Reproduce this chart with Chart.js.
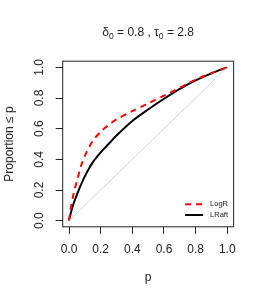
<!DOCTYPE html>
<html>
<head>
<meta charset="utf-8">
<script src="https://cdn.jsdelivr.net/npm/chart.js@4"></script>
<style>
  html, body { margin: 0; padding: 0; background: #fff; }
  #wrap { width: 266px; height: 304px; }
</style>
</head>
<body>
<div id="wrap"><canvas id="myChart" width="266" height="304"></canvas></div>
<script>
// proportion of p-values <= p
var pGrid = [0, 0.01, 0.03, 0.05, 0.08, 0.11, 0.15, 0.2, 0.25, 0.3, 0.4, 0.5, 0.6, 0.7, 0.8, 0.9, 1]
var logR  = [0, 0.075, 0.18, 0.26, 0.37, 0.445, 0.52, 0.58, 0.625, 0.66, 0.715, 0.765, 0.815, 0.867, 0.92, 0.962, 1]
var lRaft = [0, 0.045, 0.115, 0.17, 0.245, 0.31, 0.38, 0.445, 0.5, 0.555, 0.65, 0.725, 0.795, 0.86, 0.915, 0.961, 1]
var diag  = [0, 1]

var xTicks = [0, 0.2, 0.4, 0.6, 0.8, 1]
var yTicks = [0, 0.2, 0.4, 0.6, 0.8, 1]

var seriesNames = ['LogR', 'LRaft']
var FONT = 'Liberation Sans, Arial, Helvetica, sans-serif'
var INK = '#222'

function pts(xs, ys) {
    return ys.map(function (v, i) { return { x: xs[i], y: v } })
}

// title, box, y tick labels and legend like base R
var rStuff = {
    id: 'rStuff',
    afterDraw: function (chart) {
        var c = chart.ctx
        var a = chart.chartArea
        c.save()
        c.strokeStyle = INK
        c.lineWidth = 1
        c.strokeRect(a.left, a.top, a.right - a.left, a.bottom - a.top)

        // y tick labels, rotated
        var ys = chart.scales.y
        c.fillStyle = INK
        c.font = '12px ' + FONT
        c.textAlign = 'center'
        c.textBaseline = 'middle'
        ys.ticks.forEach(function (t) {
            var py = ys.getPixelForValue(t.value)
            c.save()
            c.translate(40, py)
            c.rotate(-Math.PI / 2)
            c.fillText(t.value.toFixed(1), 0, 0)
            c.restore()
        })

        // title with subscripts
        var parts = [
            ['δ', 12, 0], ['0', 8.5, 3], [' = 0.8 , ', 12, 0],
            ['τ', 12, 0], ['0', 8.5, 3], [' = 2.8', 12, 0]
        ]
        var w = 0
        parts.forEach(function (p) { c.font = p[1] + 'px ' + FONT; w += c.measureText(p[0]).width })
        var x = (a.left + a.right) / 2 - w / 2
        c.textAlign = 'left'
        c.textBaseline = 'alphabetic'
        parts.forEach(function (p) {
            c.font = p[1] + 'px ' + FONT
            c.fillText(p[0], x, 35.5 + p[2])
            x += c.measureText(p[0]).width
        })

        // legend
        var lx = a.right - 48.5
        var rows = [[a.bottom - 22.5, 'red', [6, 5]], [a.bottom - 11.8, '#000', []]]
        c.font = '7.5px ' + FONT
        c.textBaseline = 'middle'
        rows.forEach(function (r, i) {
            c.beginPath()
            c.strokeStyle = r[1]
            c.lineWidth = 2
            c.setLineDash(r[2])
            c.moveTo(lx, r[0])
            c.lineTo(lx + 18, r[0])
            c.stroke()
            c.setLineDash([])
            c.fillStyle = INK
            c.fillText(seriesNames[i], lx + 25, r[0])
        })
        c.restore()
    }
}

var ctx = document.getElementById('myChart')

var myChart = new Chart(ctx, {
    type: 'line',
    data: {
        datasets: [{
            label: 'diag',
            data: pts(diag, diag),
            borderColor: '#d3d3d3',
            borderWidth: 1,
            pointRadius: 0
        }, {
            label: seriesNames[0],
            data: pts(pGrid, logR),
            borderColor: 'red',
            borderWidth: 2,
            borderDash: [6, 5],
            pointRadius: 0,
            tension: 0.3
        }, {
            label: seriesNames[1],
            data: pts(pGrid, lRaft),
            borderColor: '#000',
            borderWidth: 2,
            pointRadius: 0,
            tension: 0.3
        }]
    },
    options: {
        responsive: false,
        animation: false,
        events: [],
        layout: { padding: { left: 0, right: 32.4, top: 61.2, bottom: 0 } },
        plugins: { legend: { display: false }, tooltip: { enabled: false } },
        scales: {
            x: {
                type: 'linear',
                min: -0.04, max: 1.04,
                afterBuildTicks: function (s) { s.ticks = xTicks.map(function (v) { return { value: v } }) },
                afterFit: function (s) { s.height = 77.2 },
                ticks: {
                    color: INK, font: { family: FONT, size: 12 }, padding: 9,
                    maxRotation: 0, autoSkip: false,
                    callback: function (v) { return v.toFixed(1) }
                },
                grid: { drawOnChartArea: false, drawTicks: true, tickLength: 7, color: INK },
                border: { display: false },
                title: { display: true, text: 'p', color: INK, font: { family: FONT, size: 12 }, padding: { top: 0, bottom: 18.8 } }
            },
            y: {
                type: 'linear',
                min: -0.04, max: 1.04,
                afterBuildTicks: function (s) { s.ticks = yTicks.map(function (v) { return { value: v } }) },
                afterFit: function (s) { s.width = 62.7 },
                ticks: { display: false },
                grid: { drawOnChartArea: false, drawTicks: true, tickLength: 7, color: INK },
                border: { display: false },
                title: { display: true, text: 'Proportion ≤ p', color: INK, font: { family: FONT, size: 12 }, padding: { top: 2, bottom: 0 } }
            }
        }
    },
    plugins: [rStuff]
})
</script>
</body>
</html>
